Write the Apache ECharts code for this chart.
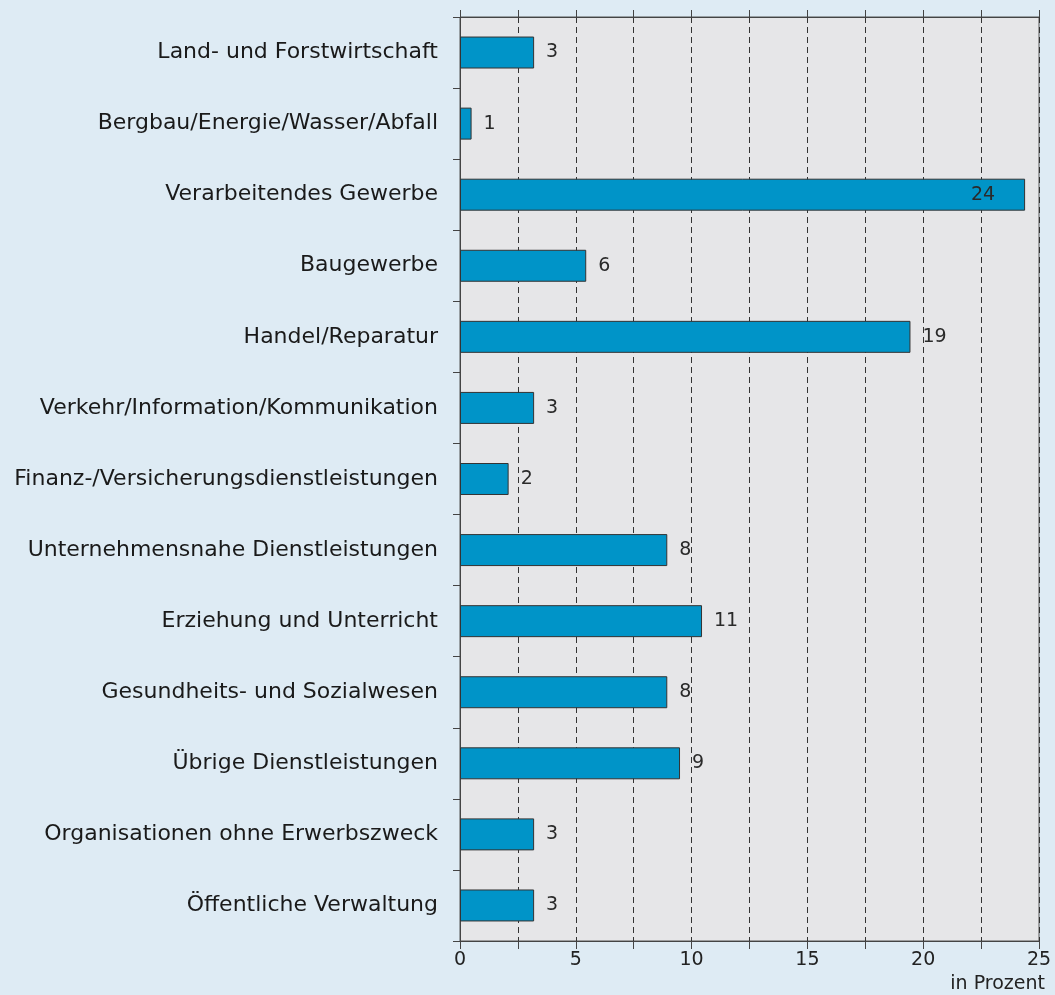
<!DOCTYPE html>
<html lang="de">
<head>
    <meta charset="UTF-8">
    <title>Branchen in Prozent</title>
    <script src="https://cdn.jsdelivr.net/npm/echarts@6/dist/echarts.min.js"></script>
    <style>
        html, body { margin: 0; padding: 0; background: #deebf4; }
        #chart { width: 1055px; height: 995px; }
    </style>
</head>
<body>
<div id="chart"></div>
<script>
    // Kategorien von oben nach unten
    var categories = [
        'Land- und Forstwirtschaft',
        'Bergbau/Energie/Wasser/Abfall',
        'Verarbeitendes Gewerbe',
        'Baugewerbe',
        'Handel/Reparatur',
        'Verkehr/Information/Kommunikation',
        'Finanz-/Versicherungsdienstleistungen',
        'Unternehmensnahe Dienstleistungen',
        'Erziehung und Unterricht',
        'Gesundheits- und Sozialwesen',
        'Übrige Dienstleistungen',
        'Organisationen ohne Erwerbszweck',
        'Öffentliche Verwaltung'
    ];
    var values = [3.2, 0.5, 24.4, 5.45, 19.45, 3.2, 2.1, 8.95, 10.45, 8.95, 9.5, 3.2, 3.2];
    var valueLabels = ['3', '1', '24', '6', '19', '3', '2', '8', '11', '8', '9', '3', '3'];
    var tickLabels = ['0', '5', '10', '15', '20', '25'];

    var font = '"DejaVu Sans", "Open Sans", sans-serif';
    var chart = echarts.init(document.getElementById('chart'));

    var data = values.map(function (v, i) {
        var item = { value: v };
        if (v > 22) {
            // zu lang: Zahl in den Balken
            item.label = { position: 'insideRight', distance: 30 };
        }
        return item;
    });

    chart.setOption({
        backgroundColor: '#deebf4',
        animation: false,
        grid: {
            left: 460, right: 16, top: 17, bottom: 54,
            show: true,
            backgroundColor: '#e6e6e8',
            borderColor: '#555',
            borderWidth: 1
        },
        xAxis: [{
            type: 'value',
            position: 'bottom',
            min: 0, max: 25, interval: 2.5,
            name: 'in Prozent',
            nameLocation: 'end',
            nameGap: 6,
            nameTextStyle: {
                align: 'right', verticalAlign: 'top', padding: [34, 0, 0, 0],
                fontFamily: font, fontSize: 19, color: '#222'
            },
            axisLine: { show: true, lineStyle: { color: '#444', width: 1 } },
            axisTick: { show: true, length: 8, lineStyle: { color: '#444' } },
            axisLabel: {
                fontFamily: font, fontSize: 19, color: '#222', margin: 10,
                formatter: function (v) {
                    var k = Math.round(v / 5);
                    return Math.abs(v - k * 5) < 0.01 ? tickLabels[k] : '';
                }
            },
            splitLine: { show: true, lineStyle: { color: '#333', type: [6, 4], width: 1 } }
        }, {
            type: 'value',
            position: 'top',
            min: 0, max: 25, interval: 2.5,
            axisLine: { show: true, lineStyle: { color: '#444', width: 1 } },
            axisTick: { show: true, length: 7, lineStyle: { color: '#444' } },
            axisLabel: { show: false },
            splitLine: { show: false }
        }],
        yAxis: {
            type: 'category',
            inverse: true,
            data: categories,
            axisLine: { show: true, lineStyle: { color: '#444', width: 1 } },
            axisTick: { show: true, length: 7, lineStyle: { color: '#444' } },
            axisLabel: { fontFamily: font, fontSize: 22, color: '#1a1a1a', margin: 22 }
        },
        series: [{
            type: 'bar',
            data: data,
            barWidth: '45%',
            itemStyle: { color: '#0094c8', borderColor: '#333', borderWidth: 1 },
            label: {
                show: true,
                position: 'right',
                distance: 12,
                fontFamily: font,
                fontSize: 19,
                color: '#2a2a2a',
                formatter: function (p) { return valueLabels[p.dataIndex]; }
            }
        }]
    });
</script>
</body>
</html>
